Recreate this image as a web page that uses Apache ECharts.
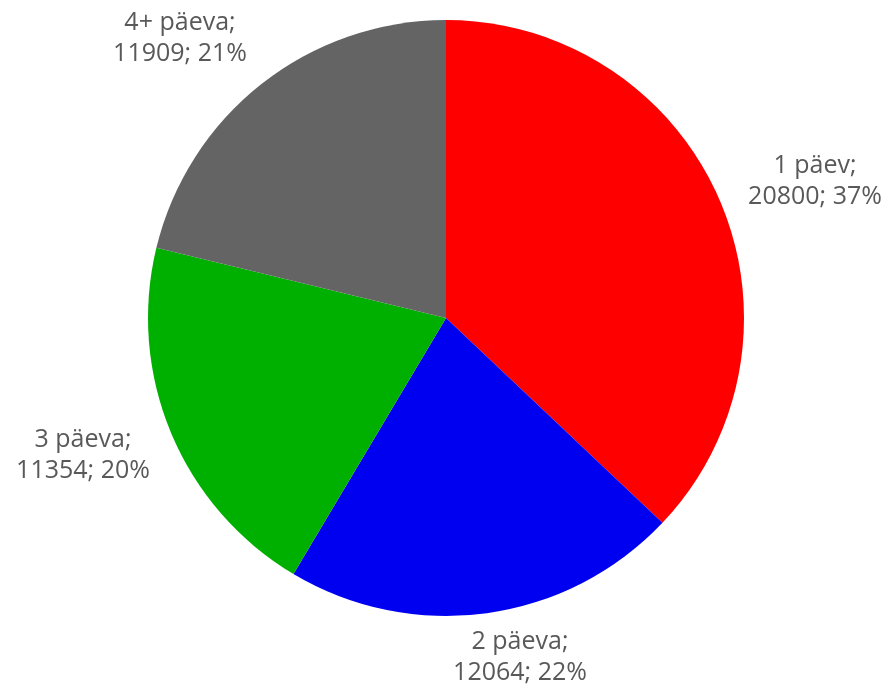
<!DOCTYPE html>
<html><head><meta charset="utf-8">
<script src="https://cdn.jsdelivr.net/npm/echarts@6/dist/echarts.min.js"></script>
<style>html,body{margin:0;padding:0;background:#fff}#c{width:891px;height:688px}</style>
</head><body><div id="c"></div>
<script>
const categories = ['1 päev', '2 päeva', '3 päeva', '4+ päeva'];
const values = [20800, 12064, 11354, 11909];
const colors = ['#ff0000', '#0000f0', '#00b000', '#646464'];

// label centre positions (text placement only)
const labelCenters = [[815, 181], [520, 657], [83, 455], [180, 38]];

const chart = echarts.init(document.getElementById('c'));
chart.setOption({
  animation: false,
  series: [{
    type: 'pie',
    center: [446, 318],
    radius: [0, 298],
    startAngle: 90,
    clockwise: true,
    percentPrecision: 0,
    data: categories.map((n, i) => ({ name: n, value: values[i], itemStyle: { color: colors[i] } })),
    label: {
      show: true,
      position: 'outside',
      formatter: p => p.name + ';\n' + p.value + '; ' + p.percent + '%',
      fontFamily: 'Open Sans',
      fontSize: 25,
      lineHeight: 31,
      color: '#595959'
    },
    labelLine: { show: false, length: 20, length2: 0 },
    labelLayout: function (params) {
      const c = labelCenters[params.dataIndex];
      return { x: c[0], y: c[1], align: 'center', verticalAlign: 'middle' };
    }
  }]
});
</script></body></html>
